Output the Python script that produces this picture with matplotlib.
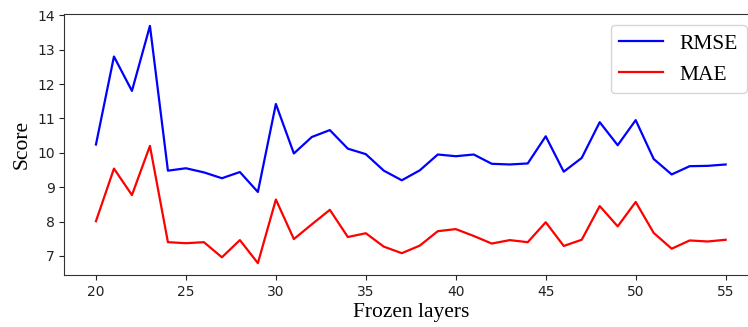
import matplotlib
matplotlib.use('Agg')
import matplotlib.pyplot as plt

# frozen layers vs. error scores
layers = list(range(20, 56))
rmse = [10.24, 12.80, 11.80, 13.69, 9.48, 9.55, 9.43, 9.26, 9.44, 8.86,
        11.42, 9.98, 10.46, 10.66, 10.12, 9.96, 9.48, 9.20, 9.49, 9.95,
        9.90, 9.95, 9.68, 9.66, 9.69, 10.48, 9.45, 9.85, 10.89, 10.22,
        10.95, 9.82, 9.37, 9.61, 9.62, 9.66]
mae = [8.01, 9.54, 8.77, 10.20, 7.40, 7.37, 7.40, 6.96, 7.46, 6.79,
       8.64, 7.49, 7.92, 8.34, 7.55, 7.66, 7.27, 7.08, 7.30, 7.72,
       7.78, 7.58, 7.36, 7.46, 7.40, 7.98, 7.29, 7.47, 8.45, 7.86,
       8.57, 7.67, 7.21, 7.45, 7.42, 7.47]

fig = plt.figure(figsize=(7.48, 3.27), dpi=100)
ax = fig.add_axes([0.0862, 0.159, 0.926, 0.798])

ax.plot(layers, rmse, color='blue', lw=1.6, label='RMSE')
ax.plot(layers, mae, color='red', lw=1.6, label='MAE')

ax.set_xticks(range(20, 56, 5))
ax.tick_params(labelsize=10, colors='#222222')
for s in ax.spines.values():
    s.set_color('#333333')

ax.set_xlabel('Frozen layers', fontsize=15.5, family='Liberation Serif', labelpad=3)
ax.set_ylabel('Score', fontsize=15.5, family='Liberation Serif')
ax.legend(loc='upper right', bbox_to_anchor=(0.985, 0.958), borderaxespad=0,
          prop={'family': 'Liberation Serif', 'size': 15.5})

fig.savefig('out.png', dpi=100)
